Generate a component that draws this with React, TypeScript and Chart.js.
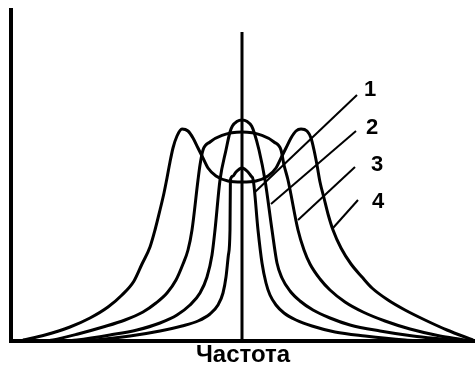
import React, { useEffect, useRef } from "react";
import { Chart, registerables } from "chart.js";

Chart.register(...registerables);

type Pt = [number, number];

// Detuning from resonance (x) against response amplitude (y) for four couplings.
const curve1: Pt[] = [
  [-40, 0], [-36.75, 0.25], [-28, 1.25], [-20.5, 2.5], [-15, 3.75], [-11, 5], [-8, 6.75],
  [-6, 9], [-4.75, 12], [-4, 16], [-3.4, 21.5], [-3, 27.75], [-2.9, 40.25],
  [-2.25, 41.25], [-1.5, 42.25], [0, 43.25],
  [1.5, 42.25], [2.25, 41.25], [2.8, 40.25], [4, 27.75], [5, 19.5], [6, 14.5],
  [7, 11.5], [8.5, 9], [10.5, 7], [13.5, 5.25], [17.5, 3.75], [23.25, 2.25],
  [30.75, 1.25], [40.75, 0.25], [45, 0],
];

const curve2: Pt[] = [
  [-44, 0], [-41.25, 0.25], [-33, 1.5], [-26.25, 2.75], [-20.5, 4.5], [-16.25, 6.5],
  [-13, 9], [-10.5, 12], [-8.75, 16], [-7.5, 21.5], [-6.75, 27.75],
  [-5.5, 40.25], [-4, 47.75], [-3, 52.25], [-2.4, 53.75], [-1.3, 54.85], [0, 55.25],
  [1.3, 54.85], [2.4, 53.75], [3, 52.25], [4.25, 47.75], [5.75, 40.25], [7.5, 27.75],
  [8.75, 19.5], [10, 15.75], [12, 12.5], [14.5, 10], [17.75, 7.75], [22, 5.75],
  [27, 4], [34.5, 2.5], [42.75, 1.25], [52, 0.25], [54, 0],
];

const curve3: Pt[] = [
  [-49, 0], [-47.25, 0.25], [-41, 1.75], [-34.75, 3.5], [-29.25, 5.25], [-24.75, 7.25],
  [-21.5, 9.5], [-18.75, 12], [-16.5, 15.25], [-14.75, 19.25], [-13.5, 22.75], [-12.5, 27.75],
  [-11, 40.25], [-10.5, 44], [-9.75, 47.75], [-8, 49.75], [-5, 51.4], [0, 52.25],
  [5, 51.4], [8, 49.75], [9.75, 47.75], [10.5, 44], [11.5, 40.25], [14, 27.75],
  [15.5, 22.75], [17, 19.25], [19.5, 15.5], [22, 12.75], [25.75, 9.75], [30.25, 7.25],
  [35.75, 5], [42, 3], [49.5, 1.25], [55.75, 0.25], [57, 0],
];

const curve4: Pt[] = [
  [-54.75, 0.25], [-49.25, 1.5], [-43, 3.5], [-38, 5.75], [-33.5, 8.5], [-30, 11.5],
  [-27, 15], [-25, 19.25], [-23, 23.5], [-21.75, 27.75], [-20.5, 32.75], [-19.5, 37],
  [-18.75, 40.75], [-18, 44.75], [-17.25, 48.25], [-16.25, 51.25], [-15, 53],
  [-13.5, 52.5], [-12.25, 50.75], [-11, 48.25], [-10, 46.25], [-8.5, 43.25],
  [-6.5, 41.25], [-3.5, 40], [0, 39.75], [3.5, 40], [6.5, 41.25], [8.5, 43.25],
  [10, 46.25], [11, 48.25], [12.25, 50.75], [13.5, 52.5], [14.75, 53], [16.25, 52.5],
  [17.25, 50.75], [18, 47.75], [18.75, 44], [19.5, 39.75], [20.5, 35.75], [21.5, 31.75],
  [22.75, 27.75], [24.75, 23.25], [27.25, 19.25], [30, 16], [32.5, 13.25], [36.5, 10.25],
  [40.75, 7.75], [45.75, 5.25], [51.25, 2.75], [57.75, 0.25],
];

const curves: Pt[][] = [curve1, curve2, curve3, curve4];
const curveNames = ["1", "2", "3", "4"];

// Resonance frequency marker.
const resonanceLine: Pt[] = [[0, 0], [0, 77.25]];

// Callout lines: from a point on each curve up to its number.
const leaderFrom: Pt[] = [[3.25, 37.25], [7.25, 34.25], [14, 30.25], [22.75, 28.25]];
const leaderTo: Pt[] = [[28.75, 61.5], [28.5, 52.5], [28.25, 43.5], [29, 35.25]];
const labelAt: Pt[] = [[32, 62.75], [32.5, 53.25], [33.75, 44], [34, 34.75]];

const axisTitle = "Частота";

const FONT = "'Liberation Sans', Arial, Helvetica, sans-serif";

const toXY = (pts: Pt[]) => pts.map(([x, y]) => ({ x, y }));

const curveLabels = {
  id: "curveLabels",
  afterDatasetsDraw(chart: Chart) {
    const { ctx } = chart;
    const xs = chart.scales.x;
    const ys = chart.scales.y;
    ctx.save();
    ctx.font = `bold 22px ${FONT}`;
    ctx.fillStyle = "#000";
    ctx.textAlign = "center";
    ctx.textBaseline = "middle";
    curveNames.forEach((name, i) => {
      ctx.fillText(name, xs.getPixelForValue(labelAt[i][0]), ys.getPixelForValue(labelAt[i][1]));
    });
    ctx.restore();
  },
};

export default function App() {
  const canvasRef = useRef<HTMLCanvasElement | null>(null);

  useEffect(() => {
    const canvas = canvasRef.current;
    if (!canvas) return;

    const lineBase = {
      borderColor: "#000",
      pointRadius: 0,
      pointHoverRadius: 0,
      fill: false,
      clip: false as const,
    };

    const datasets: any[] = [
      ...curves.map((pts, i) => ({
        ...lineBase,
        label: curveNames[i],
        data: toXY(pts),
        borderWidth: 3,
        cubicInterpolationMode: "monotone",
      })),
      {
        ...lineBase,
        label: "f0",
        data: toXY(resonanceLine),
        borderWidth: 3,
        tension: 0,
      },
      ...leaderFrom.map((from, i) => ({
        ...lineBase,
        label: `leader ${curveNames[i]}`,
        data: toXY([from, leaderTo[i]]),
        borderWidth: 2,
        tension: 0,
      })),
    ];

    const chart = new Chart(canvas, {
      type: "line",
      data: { datasets },
      plugins: [curveLabels],
      options: {
        animation: false,
        responsive: false,
        events: [],
        layout: { padding: { left: 11, top: 10, right: 0, bottom: 2 } },
        plugins: {
          legend: { display: false },
          tooltip: { enabled: false },
        },
        scales: {
          x: {
            type: "linear",
            min: -57.75,
            max: 58.25,
            ticks: { display: false },
            grid: { display: false, drawTicks: false },
            border: { display: true, color: "#000", width: 4 },
            title: {
              display: true,
              text: axisTitle,
              color: "#000",
              font: { family: FONT, size: 24, weight: "bold", lineHeight: 1 },
              padding: { top: 2, bottom: 0 },
            },
          },
          y: {
            type: "linear",
            min: 0,
            max: 82.75,
            ticks: { display: false },
            grid: { display: false, drawTicks: false },
            border: { display: true, color: "#000", width: 4 },
          },
        },
      },
    });

    return () => chart.destroy();
  }, []);

  return (
    <div style={{ position: "fixed", left: 0, top: 0, width: 475, height: 369, background: "#fff" }}>
      <canvas ref={canvasRef} width={475} height={369} style={{ display: "block" }} />
    </div>
  );
}
